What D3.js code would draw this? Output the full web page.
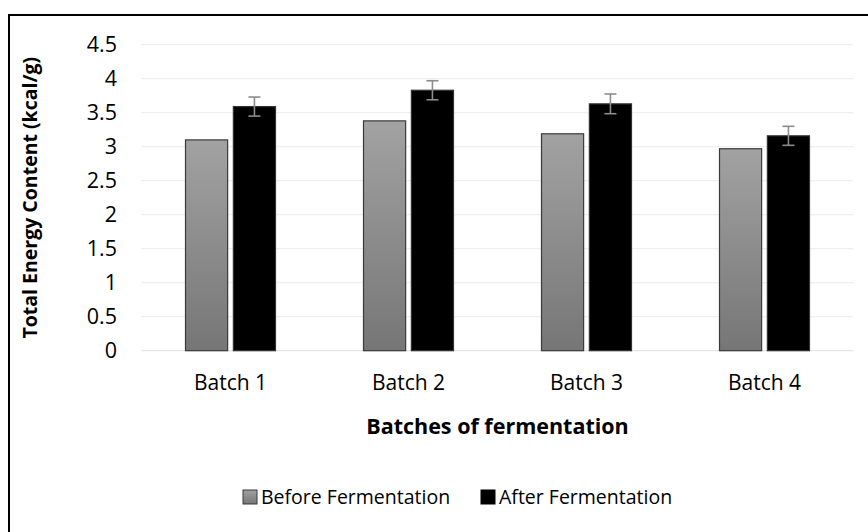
<!DOCTYPE html>
<html>
<head>
<meta charset="utf-8">
<script src="https://cdn.jsdelivr.net/npm/d3@7"></script>
<style>
  html, body { margin: 0; padding: 0; background: #fff; }
  svg text { font-family: "Open Sans", "Noto Sans", sans-serif; fill: #000; }
</style>
</head>
<body>
<svg id="chart" width="868" height="532"></svg>
<script>
const categories = ["Batch 1", "Batch 2", "Batch 3", "Batch 4"];
const seriesNames = ["Before Fermentation", "After Fermentation"];
const beforeValues = [3.10, 3.38, 3.19, 2.97];
const afterValues = [3.59, 3.83, 3.63, 3.16];
const afterErrors = [0.14, 0.14, 0.145, 0.14];
const yTicks = [0, 0.5, 1, 1.5, 2, 2.5, 3, 3.5, 4, 4.5];

const svg = d3.select("#chart");
const margin = { left: 141.5, right: 853.5, top: 44.7, bottom: 350.7 };

const x = d3.scaleBand().domain(categories).range([margin.left, margin.right]).paddingInner(0).paddingOuter(0);
const inner = d3.scaleBand().domain(seriesNames).range([0, 90]).paddingInner(0.12);
const y = d3.scaleLinear().domain([0, 4.5]).range([margin.bottom, margin.top]);

const defs = svg.append("defs");
const grad = defs.append("linearGradient").attr("id", "gGray").attr("x1", 0).attr("y1", 0).attr("x2", 0).attr("y2", 1);
grad.append("stop").attr("offset", "0%").attr("stop-color", "#a2a2a2");
grad.append("stop").attr("offset", "100%").attr("stop-color", "#767676");

// frame
svg.append("line").attr("x1", 8).attr("x2", 868).attr("y1", 15).attr("y2", 15).attr("stroke", "#000").attr("stroke-width", 2);
svg.append("line").attr("x1", 9).attr("x2", 9).attr("y1", 14).attr("y2", 532).attr("stroke", "#000").attr("stroke-width", 2);

// gridlines
svg.append("g").selectAll("line").data(yTicks).join("line")
  .attr("x1", margin.left).attr("x2", margin.right)
  .attr("y1", d => y(d)).attr("y2", d => y(d))
  .attr("stroke", d => d === 0 ? "#e6e6e6" : "#f0f0f0").attr("stroke-width", 1.3);

// y axis labels
const yAxis = d3.axisLeft(y).tickValues(yTicks).tickSize(0).tickPadding(0).tickFormat(d3.format("~g"));
const yg = svg.append("g").attr("transform", "translate(117,0)").call(yAxis);
yg.select(".domain").remove();
yg.selectAll("text").attr("font-size", 21.5).attr("font-family", "'Open Sans', sans-serif").attr("fill", "#000");

// x axis labels
const xAxis = d3.axisBottom(x).tickSize(0).tickPadding(0);
const xg = svg.append("g").attr("transform", "translate(0,375)").call(xAxis);
xg.select(".domain").remove();
xg.selectAll("text").attr("font-size", 21).attr("font-family", "'Open Sans', sans-serif").attr("fill", "#000");

// bars
const groups = svg.append("g").selectAll("g").data(categories).join("g")
  .attr("transform", d => `translate(${x(d) + x.bandwidth() / 2 - 45},0)`);

groups.append("rect")
  .attr("x", inner("Before Fermentation")).attr("width", inner.bandwidth())
  .attr("y", (d, i) => y(beforeValues[i])).attr("height", (d, i) => y(0) - y(beforeValues[i]))
  .attr("fill", "url(#gGray)").attr("stroke", "#3a3a3a").attr("stroke-width", 1.2);

groups.append("rect")
  .attr("x", inner("After Fermentation")).attr("width", inner.bandwidth())
  .attr("y", (d, i) => y(afterValues[i])).attr("height", (d, i) => y(0) - y(afterValues[i]))
  .attr("fill", "#000").attr("stroke", "#333").attr("stroke-width", 1.2);

// error bars
const cx = inner("After Fermentation") + inner.bandwidth() / 2;
const eb = groups.append("g").attr("stroke", "#8c8c8c").attr("stroke-width", 1.6);
eb.append("line").attr("x1", cx).attr("x2", cx)
  .attr("y1", (d, i) => y(afterValues[i] + afterErrors[i])).attr("y2", (d, i) => y(afterValues[i] - afterErrors[i]));
eb.append("line").attr("x1", cx - 6).attr("x2", cx + 6)
  .attr("y1", (d, i) => y(afterValues[i] + afterErrors[i])).attr("y2", (d, i) => y(afterValues[i] + afterErrors[i]));
eb.append("line").attr("x1", cx - 6).attr("x2", cx + 6)
  .attr("y1", (d, i) => y(afterValues[i] - afterErrors[i])).attr("y2", (d, i) => y(afterValues[i] - afterErrors[i]));

// axis titles
svg.append("text").attr("x", (margin.left + margin.right) / 2).attr("y", 434)
  .attr("text-anchor", "middle").attr("font-size", 21.5).attr("font-weight", "bold").text("Batches of fermentation");
svg.append("text").attr("transform", `translate(37,${(margin.top + margin.bottom) / 2}) rotate(-90)`)
  .attr("text-anchor", "middle").attr("font-size", 19.5).attr("font-weight", "bold").text("Total Energy Content (kcal/g)");

// legend
const legendItems = [
  { name: seriesNames[0], fill: "url(#gGray)", stroke: "#3a3a3a", x: 243 },
  { name: seriesNames[1], fill: "#000", stroke: "#000", x: 481 }
];
const lg = svg.append("g").selectAll("g").data(legendItems).join("g")
  .attr("transform", d => `translate(${d.x},497)`);
lg.append("rect").attr("x", 0).attr("y", -7).attr("width", 14).attr("height", 14)
  .attr("fill", d => d.fill).attr("stroke", d => d.stroke).attr("stroke-width", 1);
lg.append("text").attr("x", 18).attr("y", 0).attr("dy", "0.36em").attr("font-size", 19.5).text(d => d.name);
</script>
</body>
</html>
